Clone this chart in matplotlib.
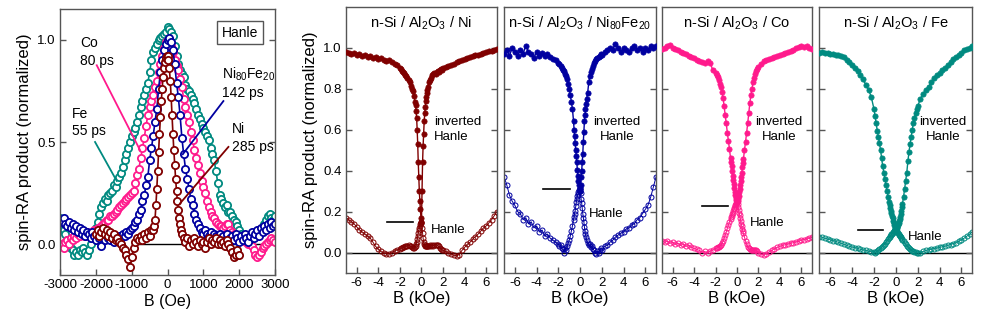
import numpy as np
import matplotlib
matplotlib.use("Agg")
import matplotlib.pyplot as plt

plt.rcParams['font.family'] = ['Liberation Sans', 'DejaVu Sans']
plt.rcParams['mathtext.fontset'] = 'custom'
plt.rcParams['mathtext.rm'] = 'Liberation Sans'
plt.rcParams['mathtext.it'] = 'Liberation Sans:italic'
plt.rcParams['mathtext.default'] = 'regular'
plt.rcParams['axes.unicode_minus'] = False

# ---------------- left panel data (B in Oe) ----------------
B_left = list(range(-3000, 3001, 50))
B_ni = list(range(-2000, -449, 50)) + list(range(-400, 401, 25)) + list(range(450, 2001, 50))

fe_left = [0.13, 0.10, 0.07, 0.05, 0.02, 0.0, -0.02, -0.03, -0.05, -0.04,
           -0.05, -0.03, -0.04, -0.02, -0.04, -0.05, -0.03, 0.0, 0.03, 0.05,
           0.08, 0.11, 0.15, 0.18, 0.20, 0.22, 0.21, 0.24, 0.25, 0.26,
           0.29, 0.28, 0.31, 0.33, 0.35, 0.38, 0.41, 0.44, 0.47, 0.50,
           0.53, 0.55, 0.57, 0.60, 0.63, 0.67, 0.70, 0.73, 0.76, 0.79,
           0.84, 0.90, 0.94, 0.96, 0.98, 1.00, 1.01, 1.02, 1.03, 1.04,
           1.06, 1.05, 1.04, 1.02, 0.97, 0.92, 0.88, 0.85, 0.83, 0.82,
           0.78, 0.76, 0.75, 0.73, 0.71, 0.69, 0.66, 0.63, 0.61, 0.59,
           0.57, 0.55, 0.53, 0.51, 0.47, 0.44, 0.41, 0.36, 0.30, 0.24,
           0.22, 0.20, 0.18, 0.19, 0.16, 0.16, 0.14, 0.12, 0.11, 0.09,
           0.07, 0.05, 0.04, 0.03, 0.02, 0.03, 0.04, 0.03, 0.04, 0.05,
           0.06, 0.05, 0.06, 0.08, 0.10, 0.12, 0.14, 0.15, 0.13, 0.12,
           0.14]
co_left = [-0.01, 0.0, -0.02, 0.01, 0.02, 0.0, 0.03, 0.02, 0.04, 0.03,
           0.05, 0.04, 0.06, 0.05, 0.04, 0.06, 0.05, 0.04, 0.05, 0.07,
           0.06, 0.08, 0.07, 0.09, 0.10, 0.11, 0.12, 0.12, 0.14, 0.14,
           0.15, 0.16, 0.17, 0.18, 0.19, 0.20, 0.21, 0.22, 0.23, 0.24,
           0.25, 0.26, 0.30, 0.34, 0.37, 0.42, 0.47, 0.52, 0.58, 0.63,
           0.67, 0.70, 0.73, 0.77, 0.80, 0.84, 0.88, 0.92, 0.96, 0.99,
           1.00, 0.99, 0.97, 0.94, 0.90, 0.87, 0.85, 0.81, 0.77, 0.71,
           0.67, 0.63, 0.60, 0.55, 0.51, 0.46, 0.42, 0.39, 0.35, 0.31,
           0.28, 0.25, 0.21, 0.18, 0.16, 0.14, 0.13, 0.11, 0.10, 0.09,
           0.09, 0.08, 0.09, 0.10, 0.10, 0.07, 0.06, 0.05, 0.04, 0.04,
           0.03, 0.03, 0.02, 0.02, 0.01, 0.0, 0.0, -0.01, -0.03, -0.05,
           -0.06, -0.05, -0.04, -0.02, -0.01, 0.0, 0.01, 0.02, 0.03, 0.02,
           0.01]
nife_left = [0.12, 0.11, 0.13, 0.10, 0.09, 0.11, 0.08, 0.10, 0.07, 0.09,
             0.06, 0.08, 0.05, 0.07, 0.04, 0.06, 0.05, 0.03, 0.06, 0.04,
             0.02, 0.05, 0.03, -0.01, 0.04, 0.02, 0.05, 0.03, 0.02, 0.04,
             0.01, 0.03, 0.02, 0.04, 0.03, 0.05, 0.04, 0.06, 0.05, 0.07,
             0.08, 0.09, 0.11, 0.12, 0.15, 0.17, 0.21, 0.24, 0.29, 0.33,
             0.41, 0.47, 0.53, 0.60, 0.66, 0.76, 0.84, 0.90, 0.95, 0.98,
             1.00, 1.01, 0.99, 0.95, 0.88, 0.79, 0.72, 0.63, 0.52, 0.44,
             0.37, 0.32, 0.27, 0.22, 0.19, 0.15, 0.12, 0.10, 0.08, 0.06,
             0.05, 0.07, 0.05, 0.04, 0.06, 0.03, 0.05, 0.04, 0.02, 0.05,
             0.03, 0.04, 0.02, 0.05, 0.01, 0.03, 0.04, 0.02, 0.05, 0.03,
             0.01, 0.04, 0.02, 0.05, 0.03, 0.01, 0.04, 0.06, 0.03, 0.05,
             0.07, 0.04, 0.08, 0.06, 0.09, 0.07, 0.10, 0.08, 0.11, 0.09,
             0.10]
ni_left = [0.05, 0.07, 0.04, 0.06, 0.08, 0.05, 0.07, 0.04, 0.06, 0.03,
           0.05, 0.02, 0.03, 0.01, 0.0, -0.02, -0.03, -0.05, -0.07, -0.11,
           -0.06, -0.02, 0.01, 0.03, 0.02, 0.04, 0.02, 0.05, 0.03, 0.06,
           0.04, 0.07,
           0.07, 0.09, 0.12, 0.19, 0.27, 0.36, 0.45, 0.54, 0.62, 0.70,
           0.76, 0.82, 0.86, 0.89, 0.91, 0.92, 0.92, 0.90, 0.86, 0.80,
           0.72, 0.63, 0.54, 0.46, 0.39, 0.32, 0.26, 0.21, 0.17, 0.13,
           0.10, 0.07, 0.05,
           0.03, 0.01, 0.03, -0.01, 0.02, 0.0, 0.03, 0.01, -0.01, 0.02,
           0.0, 0.01, -0.02, 0.01, 0.03, 0.0, 0.02, 0.01, 0.03, 0.0,
           0.02, 0.0, 0.01, -0.01, 0.02, 0.0, -0.02, -0.04, -0.06, -0.05,
           -0.03, -0.05]

# ---------------- right panels data (B in kOe) ----------------
B_half = [-7.0, -6.75, -6.5, -6.25, -6.0, -5.75, -5.5, -5.25, -5.0, -4.75,
          -4.5, -4.25, -4.0, -3.75, -3.5, -3.25, -3.0, -2.75, -2.5, -2.25, -2.0,
          -1.9, -1.8, -1.7, -1.6, -1.5, -1.4, -1.3, -1.2, -1.1, -1.0, -0.9, -0.8, -0.7, -0.6,
          -0.55, -0.5, -0.45, -0.4, -0.35, -0.3, -0.25, -0.2, -0.15, -0.1, -0.05, 0.0]
B_up = [-b for b in B_half[::-1]]
B_full = B_half + B_up[1:]

ni_inv_l = [0.98, 0.975, 0.97, 0.972, 0.965, 0.968, 0.96, 0.962, 0.955, 0.958,
            0.95, 0.952, 0.945, 0.948, 0.94, 0.935, 0.938, 0.93, 0.92, 0.915, 0.9,
            0.895, 0.885, 0.88, 0.875, 0.865, 0.86, 0.85, 0.84, 0.83, 0.815, 0.8, 0.79, 0.765, 0.735,
            0.72, 0.69, 0.655, 0.6, 0.53, 0.44, 0.37, 0.3, 0.25, 0.21, 0.17, 0.15]
ni_inv_r = [0.15, 0.3, 0.44, 0.52, 0.58, 0.64, 0.68, 0.71, 0.74, 0.76, 0.78, 0.795,
            0.81, 0.83, 0.84, 0.85, 0.865, 0.87, 0.875, 0.87, 0.88, 0.885, 0.88, 0.89, 0.895, 0.89,
            0.9, 0.905, 0.91, 0.915, 0.92, 0.93, 0.935, 0.94, 0.945, 0.95, 0.955,
            0.958, 0.962, 0.965, 0.97, 0.975, 0.978, 0.982, 0.985, 0.99, 0.995]
ni_hanle = [0.17, 0.16, 0.15, 0.14, 0.125, 0.11, 0.1, 0.09, 0.08, 0.07,
            0.05, 0.03, 0.015, 0.005, -0.003, -0.006, -0.006, -0.002, 0.008, 0.012, 0.018,
            0.02, 0.022, 0.025, 0.027, 0.03, 0.032, 0.034, 0.035, 0.033, 0.03, 0.027, 0.023, 0.021, 0.025,
            0.03, 0.04, 0.05, 0.065, 0.08, 0.095, 0.11, 0.122, 0.13, 0.14, 0.145, 0.145,
            0.12, 0.095, 0.07, 0.05, 0.04, 0.035, 0.032, 0.03, 0.03, 0.03, 0.03,
            0.03, 0.033, 0.035, 0.032, 0.035, 0.033, 0.036, 0.038, 0.037, 0.035, 0.03, 0.024, 0.018, 0.013,
            0.01, 0.005, -0.003, -0.008, -0.013, -0.016, -0.01, 0.01, 0.025, 0.04,
            0.05, 0.065, 0.078, 0.09, 0.105, 0.12, 0.13, 0.145, 0.16, 0.18, 0.2]

nife_inv_l = [0.97, 0.99, 0.96, 1.0, 0.98, 0.96, 0.99, 0.97, 1.01, 0.98,
              0.97, 0.95, 0.98, 0.96, 0.975, 0.96, 0.97, 0.955, 0.945, 0.94, 0.925,
              0.92, 0.91, 0.9, 0.89, 0.885, 0.87, 0.86, 0.845, 0.825, 0.8, 0.77, 0.735, 0.70, 0.64,
              0.6, 0.57, 0.535, 0.5, 0.47, 0.44, 0.405, 0.375, 0.35, 0.33, 0.31, 0.3]
nife_inv_r = [0.3, 0.33, 0.37, 0.4, 0.44, 0.48, 0.54, 0.59, 0.64, 0.67, 0.7, 0.725,
              0.75, 0.78, 0.83, 0.86, 0.88, 0.895, 0.91, 0.925, 0.935, 0.945, 0.95, 0.955, 0.96, 0.97,
              0.965, 0.98, 0.99, 1.0, 0.99, 1.02, 1.0, 0.98, 1.0, 0.99, 0.98,
              1.0, 1.01, 0.99, 1.0, 0.98, 1.0, 0.99, 1.01, 1.0, 1.01]
nife_hanle = [0.37, 0.33, 0.28, 0.25, 0.23, 0.2, 0.19, 0.16, 0.17, 0.14,
              0.15, 0.12, 0.13, 0.1, 0.11, 0.08, 0.09, 0.07, 0.06, 0.05, 0.04,
              0.03, 0.035, 0.02, 0.015, 0.0, 0.02, 0.01, 0.03, 0.045, 0.06, 0.08, 0.105, 0.13, 0.16,
              0.175, 0.19, 0.205, 0.225, 0.245, 0.26, 0.275, 0.285, 0.295, 0.305, 0.31, 0.315,
              0.29, 0.26, 0.24, 0.215, 0.19, 0.17, 0.15, 0.125, 0.105, 0.09, 0.075,
              0.06, 0.045, 0.035, 0.04, 0.025, 0.03, 0.015, 0.01, 0.0, -0.005, 0.005, -0.002, 0.01, 0.02,
              0.01, 0.03, 0.035, 0.05, 0.06, 0.075, 0.085, 0.095, 0.1, 0.115,
              0.12, 0.135, 0.14, 0.16, 0.17, 0.19, 0.21, 0.23, 0.27, 0.32, 0.37]

co_inv_l = [0.995, 1.0, 1.01, 1.015, 1.0, 0.995, 0.99, 0.98, 0.975, 0.97,
            0.96, 0.955, 0.95, 0.94, 0.935, 0.93, 0.925, 0.935, 0.925, 0.89, 0.875,
            0.865, 0.855, 0.84, 0.825, 0.81, 0.785, 0.755, 0.715, 0.67, 0.63, 0.585, 0.545, 0.505, 0.46,
            0.44, 0.42, 0.4, 0.375, 0.355, 0.335, 0.315, 0.295, 0.28, 0.265, 0.255, 0.245]
co_inv_r = [0.245, 0.25, 0.26, 0.275, 0.295, 0.31, 0.33, 0.35, 0.37, 0.39, 0.415, 0.435,
            0.455, 0.5, 0.54, 0.585, 0.63, 0.68, 0.73, 0.77, 0.8, 0.83, 0.85, 0.87, 0.885, 0.895,
            0.905, 0.92, 0.935, 0.94, 0.945, 0.95, 0.955, 0.96, 0.965, 0.97, 0.975,
            0.98, 0.985, 0.99, 1.0, 1.005, 1.01, 1.005, 1.01, 1.0, 0.995]
co_hanle = [0.055, 0.05, 0.055, 0.045, 0.05, 0.04, 0.045, 0.035, 0.04, 0.03,
            0.035, 0.025, 0.02, 0.015, 0.01, 0.0, 0.005, -0.003, 0.008, 0.012, 0.02,
            0.022, 0.025, 0.028, 0.03, 0.035, 0.045, 0.055, 0.07, 0.085, 0.1, 0.118, 0.135, 0.15, 0.165,
            0.172, 0.18, 0.188, 0.195, 0.203, 0.21, 0.218, 0.225, 0.232, 0.238, 0.244, 0.248,
            0.235, 0.222, 0.208, 0.195, 0.182, 0.168, 0.152, 0.14, 0.128, 0.115, 0.103,
            0.093, 0.075, 0.055, 0.04, 0.028, 0.02, 0.015, 0.012, 0.01, 0.012, 0.01, 0.013, 0.01, 0.005,
            0.0, -0.008, -0.012, -0.005, 0.003, 0.01, 0.018, 0.025, 0.03, 0.035,
            0.038, 0.042, 0.045, 0.048, 0.052, 0.055, 0.06, 0.063, 0.066, 0.07, 0.075]

fe_inv_l = [0.975, 0.978, 0.972, 0.975, 0.968, 0.97, 0.965, 0.962, 0.958, 0.955,
            0.94, 0.93, 0.915, 0.9, 0.885, 0.865, 0.845, 0.82, 0.795, 0.76, 0.7,
            0.665, 0.63, 0.595, 0.565, 0.535, 0.5, 0.46, 0.42, 0.39, 0.36, 0.33, 0.3, 0.272, 0.245,
            0.232, 0.218, 0.205, 0.192, 0.18, 0.167, 0.155, 0.143, 0.132, 0.122, 0.115, 0.11]
fe_inv_r = [0.105, 0.11, 0.118, 0.126, 0.135, 0.145, 0.155, 0.165, 0.175, 0.19, 0.205, 0.22,
            0.235, 0.27, 0.31, 0.35, 0.39, 0.445, 0.49, 0.53, 0.565, 0.6, 0.63, 0.655, 0.68, 0.7,
            0.715, 0.75, 0.775, 0.795, 0.81, 0.83, 0.85, 0.865, 0.875, 0.89, 0.9,
            0.915, 0.93, 0.945, 0.955, 0.965, 0.975, 0.99, 0.995, 1.0, 1.008]
fe_hanle = [0.078, 0.074, 0.07, 0.066, 0.062, 0.058, 0.054, 0.05, 0.045, 0.04,
            0.035, 0.03, 0.027, 0.024, 0.02, 0.016, 0.013, 0.01, 0.007, 0.004, 0.002,
            0.0, 0.002, 0.006, 0.01, 0.015, 0.02, 0.026, 0.032, 0.038, 0.044, 0.05, 0.058, 0.065, 0.072,
            0.076, 0.08, 0.084, 0.088, 0.092, 0.096, 0.1, 0.103, 0.106, 0.108, 0.11, 0.11,
            0.108, 0.105, 0.1, 0.096, 0.091, 0.087, 0.083, 0.079, 0.075, 0.071, 0.067,
            0.063, 0.055, 0.047, 0.04, 0.033, 0.027, 0.021, 0.016, 0.012, 0.008, 0.005, 0.003, 0.001, 0.0,
            -0.002, 0.0, 0.005, 0.01, 0.013, 0.016, 0.019, 0.022, 0.025, 0.028,
            0.031, 0.035, 0.039, 0.043, 0.048, 0.055, 0.062, 0.07, 0.08, 0.09, 0.1]

C_NI = '#800000'
C_NIFE = '#0000a0'
C_CO = '#ff1a8c'
C_FE = '#008a80'
SPINE = '#555555'

fig = plt.figure(figsize=(9.81, 3.18), dpi=100)

def style_axes(ax):
    for s in ax.spines.values():
        s.set_color(SPINE)
        s.set_linewidth(1.0)
    ax.tick_params(direction='in', length=4, width=1, color=SPINE,
                   labelsize=9.5, top=False, right=True, pad=3)

# ---- left panel ----
axL = fig.add_axes([0.0612, 0.1352, 0.2192, 0.8365])
style_axes(axL)
axL.plot([-1000, 3000], [0, 0], color='black', lw=1.0, zorder=1)
for yy, col, xx in [(fe_left, C_FE, B_left), (co_left, C_CO, B_left),
                    (nife_left, C_NIFE, B_left), (ni_left, C_NI, B_ni)]:
    axL.plot(xx, yy, '-o', color=col, lw=1.2, ms=5.2, mfc='white', mec=col, mew=1.3, zorder=2)
axL.set_xlim(-3000, 3000)
axL.set_ylim(-0.15, 1.15)
axL.set_xticks([-3000, -2000, -1000, 0, 1000, 2000, 3000])
axL.set_yticks([0.0, 0.5, 1.0])
axL.set_yticklabels(['0.0', '0.5', '1.0'])
axL.set_xlabel('B (Oe)', fontsize=11.5, labelpad=2)
axL.set_ylabel('spin-RA product (normalized)', fontsize=12, labelpad=4)

axL.text(-2442, 0.94, 'Co\n80 ps', fontsize=10, ha='left', va='center', linespacing=1.3)
axL.plot([-1976, -767], [0.875, 0.46], color=C_CO, lw=1.3, zorder=3)
axL.text(-2665, 0.595, 'Fe\n55 ps', fontsize=10, ha='left', va='center', linespacing=1.3)
axL.plot([-2023, -1419], [0.5, 0.31], color=C_FE, lw=1.3, zorder=3)
axL.text(1512, 0.79, 'Ni$_{80}$Fe$_{20}$\n142 ps', fontsize=10, ha='left', va='center', linespacing=1.25)
axL.plot([1558, 424], [0.70, 0.44], color=C_NIFE, lw=1.3, zorder=3)
axL.text(1791, 0.52, 'Ni\n285 ps', fontsize=10, ha='left', va='center', linespacing=1.3)
axL.plot([1698, 349], [0.476, 0.2], color=C_NI, lw=1.3, zorder=3)
axL.text(2024, 1.035, 'Hanle', fontsize=10, ha='center', va='center',
         bbox=dict(boxstyle='square,pad=0.35', fc='white', ec=SPINE, lw=1.0))

# ---- right panels ----
panels = [
    ('n-Si / Al$_2$O$_3$ / Ni', C_NI, ni_inv_l, ni_inv_r, ni_hanle,
     (-3.17, -0.8, 0.147), (1.14, 0.6, 'left'), (0.83, 0.11), 0.3527, 0.1539),
    ('n-Si / Al$_2$O$_3$ / Ni$_{80}$Fe$_{20}$', C_NIFE, nife_inv_l, nife_inv_r, nife_hanle,
     (-3.39, -0.92, 0.312), (3.38, 0.6, 'center'), (0.77, 0.19), 0.5138, 0.155),
    ('n-Si / Al$_2$O$_3$ / Co', C_CO, co_inv_l, co_inv_r, co_hanle,
     (-3.22, -0.84, 0.227), (3.9, 0.6, 'center'), (1.17, 0.143), 0.6748, 0.1529),
    ('n-Si / Al$_2$O$_3$ / Fe', C_FE, fe_inv_l, fe_inv_r, fe_hanle,
     (-3.47, -1.14, 0.11), (4.31, 0.6, 'center'), (1.08, 0.078), 0.8352, 0.156),
]

for i, (title, col, invl, invr, han, bar, inv_txt, han_txt, left, width) in enumerate(panels):
    ax = fig.add_axes([left, 0.1415, width, 0.8375])
    style_axes(ax)
    ax.axhline(0, color='black', lw=1.0, zorder=1)
    ax.plot(B_full, han, '-o', color=col, lw=0.7, ms=3.6, mfc='none', mec=col, mew=0.7, zorder=2)
    ax.plot(B_half, invl, '-o', color=col, lw=1.0, ms=3.8, mfc=col, mec=col, mew=0.5, zorder=3)
    ax.plot(B_up, invr, '-o', color=col, lw=1.0, ms=3.8, mfc=col, mec=col, mew=0.5, zorder=3)
    ax.set_xlim(-7, 7)
    ax.set_ylim(-0.1, 1.2)
    ax.set_xticks([-6, -4, -2, 0, 2, 4, 6])
    ax.set_yticks([0.0, 0.2, 0.4, 0.6, 0.8, 1.0])
    if i == 0:
        ax.set_yticklabels(['0.0', '0.2', '0.4', '0.6', '0.8', '1.0'])
        ax.set_ylabel('spin-RA product (normalized)', fontsize=12, labelpad=4)
    else:
        ax.set_yticklabels([])
    ax.set_xlabel('B (kOe)', fontsize=12, labelpad=1)
    ax.text(0, 1.12, title, fontsize=10.5, ha='center', va='center')
    ax.plot([bar[0], bar[1]], [bar[2], bar[2]], color='black', lw=1.2, zorder=4)
    ax.text(inv_txt[0], inv_txt[1], 'inverted\nHanle', fontsize=9.5, ha=inv_txt[2],
            multialignment=inv_txt[2], va='center', linespacing=1.35)
    ax.text(han_txt[0], han_txt[1], 'Hanle', fontsize=9.5, ha='left', va='center')

fig.savefig('out.png', dpi=100)
